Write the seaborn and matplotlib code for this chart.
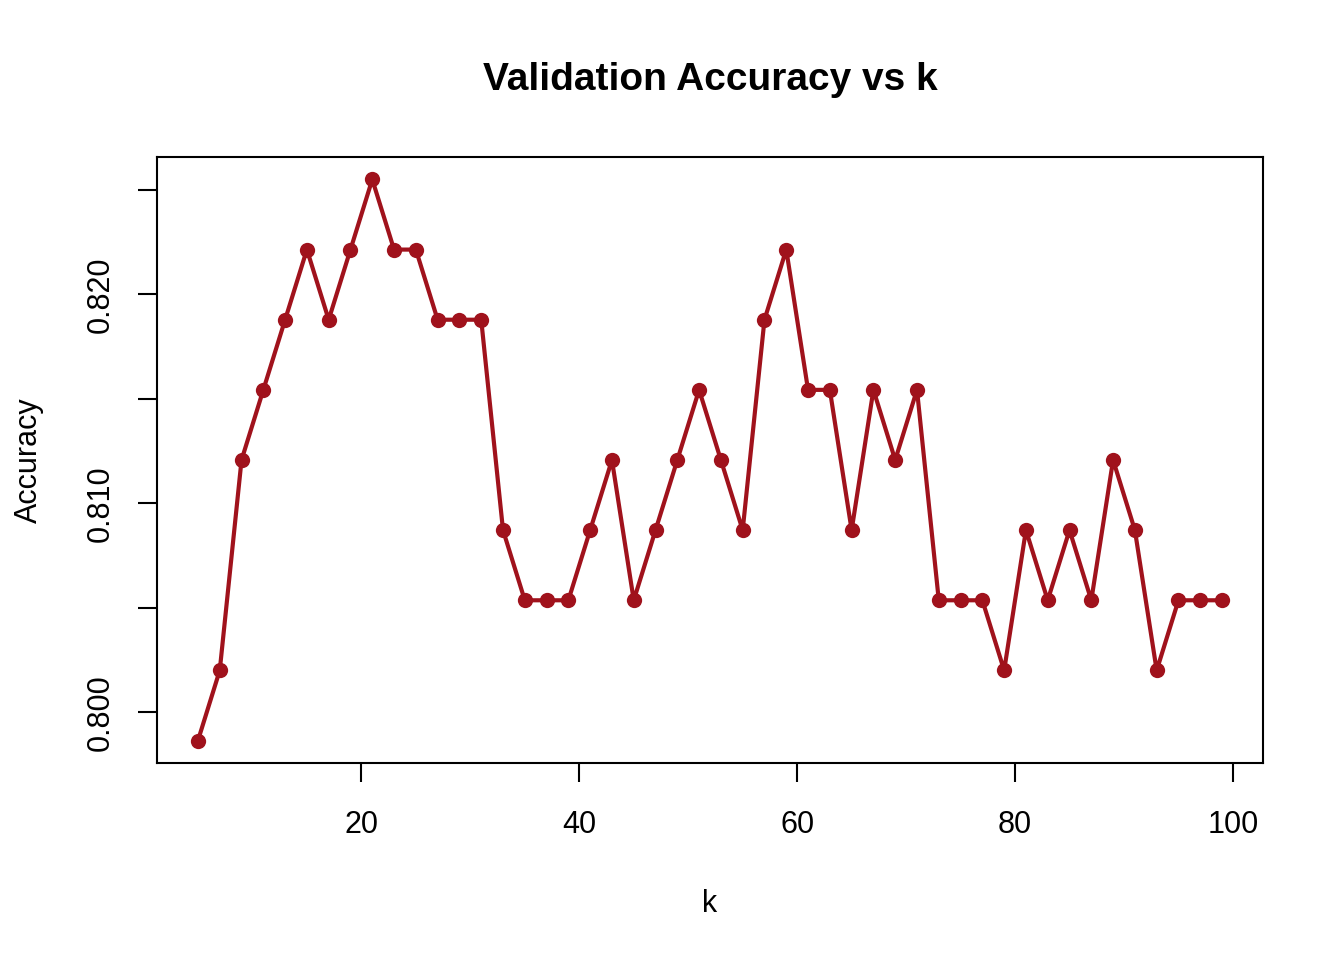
import matplotlib
matplotlib.use("Agg")
import matplotlib.pyplot as plt
import seaborn as sns
import pandas as pd

k_values = list(range(5, 100, 2))
correct = [238, 239, 242, 243, 244, 245, 244, 245, 246, 245, 245, 244, 244, 244,
           241, 240, 240, 240, 241, 242, 240, 241, 242, 243, 242, 241, 244, 245,
           243, 243, 241, 243, 242, 243, 240, 240, 240, 239, 241, 240, 241, 240,
           242, 241, 239, 240, 240, 240]
n_val = 298
accuracy = [c / n_val for c in correct]

x_ticks = [20, 40, 60, 80, 100]
y_ticks = [0.800, 0.805, 0.810, 0.815, 0.820, 0.825]
y_labels = ["0.800", "", "0.810", "", "0.820", ""]

sns.set_style("white")
plt.rcParams['font.family'] = ['Liberation Sans', 'DejaVu Sans']
plt.rcParams['text.color'] = 'black'
plt.rcParams['axes.labelcolor'] = 'black'

df = pd.DataFrame({"k": k_values, "Accuracy": accuracy})
color = "#A0121C"

fig = plt.figure(figsize=(13.44, 9.6), dpi=100)
ax = fig.add_axes([157/1344, 1 - 763/960, (1263-157)/1344, (763-157)/960])
sns.lineplot(data=df, x="k", y="Accuracy", ax=ax, color=color, linewidth=3.0,
             marker="o", markersize=11, markeredgewidth=0, markerfacecolor=color)

xr = max(k_values) - min(k_values)
ax.set_xlim(min(k_values) - 0.04 * xr, max(k_values) + 0.04 * xr)
yr = max(accuracy) - min(accuracy)
ax.set_ylim(min(accuracy) - 0.04 * yr, max(accuracy) + 0.04 * yr)

ax.set_xticks(x_ticks)
ax.set_yticks(y_ticks)
ax.set_yticklabels(y_labels, rotation=90, va="center")
ax.tick_params(axis="both", direction="out", length=14, width=1.5, labelsize=22,
               color="black", labelcolor="black", left=True, bottom=True)
ax.tick_params(axis="x", pad=20)
ax.tick_params(axis="y", pad=16)
for s in ax.spines.values():
    s.set_color("black")
    s.set_linewidth(1.5)

ax.set_xlabel("k", fontsize=22, labelpad=35)
ax.set_ylabel("Accuracy", fontsize=22, labelpad=30)
ax.set_title("Validation Accuracy vs k", fontsize=28, fontweight="bold", pad=48,
             color="black")

fig.savefig("out.png", dpi=100)
